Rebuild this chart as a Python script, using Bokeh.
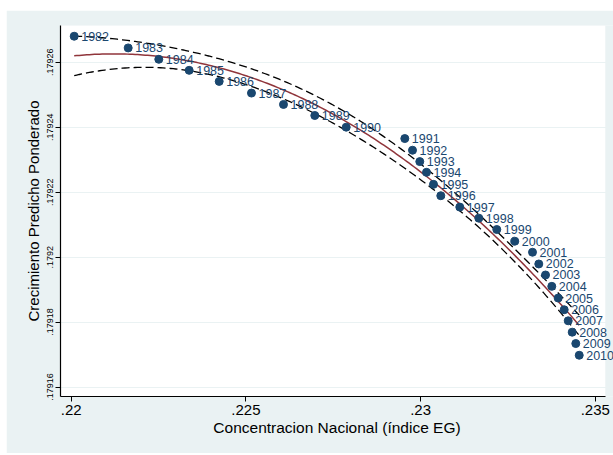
import numpy as np
from bokeh.plotting import figure
from bokeh.models import ColumnDataSource, FixedTicker, Range1d
from bokeh.core.properties import value
from bokeh.embed import file_html
from bokeh.resources import INLINE

years = [1982, 1983, 1984, 1985, 1986, 1987, 1988, 1989, 1990, 1991,
         1992, 1993, 1994, 1995, 1996, 1997, 1998, 1999, 2000, 2001,
         2002, 2003, 2004, 2005, 2006, 2007, 2008, 2009, 2010]
eg_index = [0.220086, 0.221631, 0.222507, 0.223377, 0.224236, 0.225160, 0.226076,
            0.226972, 0.227871, 0.229548, 0.229768, 0.229977, 0.230169, 0.230369,
            0.230578, 0.231122, 0.231666, 0.232181, 0.232696, 0.233203, 0.233383,
            0.233575, 0.233755, 0.233938, 0.234110, 0.234225, 0.234339, 0.234442,
            0.234540]
growth = [0.1792680, 0.1792644, 0.1792609, 0.1792575, 0.1792541, 0.1792505,
          0.1792470, 0.1792436, 0.1792400, 0.1792365, 0.1792329, 0.1792294,
          0.1792261, 0.1792224, 0.1792189, 0.1792154, 0.1792120, 0.1792085,
          0.1792049, 0.1792015, 0.1791979, 0.1791945, 0.1791910, 0.1791874,
          0.1791838, 0.1791804, 0.1791769, 0.1791734, 0.1791698]

x_ticks = [0.22, 0.225, 0.23, 0.235]
x_tick_labels = [".22", ".225", ".23", ".235"]
y_ticks = [0.17916, 0.17918, 0.1792, 0.17922, 0.17924, 0.17926]
y_tick_labels = [".17916", ".17918", ".1792", ".17922", ".17924", ".17926"]

# plot region (white area) extent in data units
x_lo, x_hi = 0.219694, 0.235286
y_lo, y_hi = 0.1791571, 0.1792713

NAVY = "#1A476F"
MAROON = "#90353B"
BG = "#EAF2F3"
FONT = "Liberation Sans"

# quadratic fit with 95% CI of the mean prediction (as Stata qfitci)
x = np.array(eg_index)
y = np.array(growth)
xm = x.mean()
X = np.column_stack([np.ones_like(x), x - xm, (x - xm) ** 2])
beta, *_ = np.linalg.lstsq(X, y, rcond=None)
resid = y - X @ beta
n, k = X.shape
s2 = resid @ resid / (n - k)
V = s2 * np.linalg.inv(X.T @ X)
tcrit = 2.0555  # t(0.975, 26)
xg = np.linspace(x.min(), x.max(), 200)
G = np.column_stack([np.ones_like(xg), xg - xm, (xg - xm) ** 2])
yhat = G @ beta
se = np.sqrt(np.einsum("ij,jk,ik->i", G, V, G))
fit = ColumnDataSource(dict(x=xg, y=yhat, lo=yhat - tcrit * se, hi=yhat + tcrit * se))

src = ColumnDataSource(dict(x=eg_index, y=growth, lab=[str(v) for v in years]))

# frame extends to the right page edge so that point labels are not clipped
px_per_unit = 174.7 / 0.005
frame_w = 553
p = figure(width=607, height=443, output_backend="svg", toolbar_location=None,
           x_range=Range1d(x_lo, x_lo + frame_w / px_per_unit), y_range=Range1d(y_lo, y_hi),
           min_border_left=54, min_border_right=0, min_border_top=15, min_border_bottom=57)
p.margin = (10, 0, 2, 6)
p.background_fill_color = BG
p.border_fill_color = BG
p.outline_line_color = None

p.quad(left=[x_lo], right=[x_hi], bottom=[y_lo], top=[y_hi], fill_color="white",
       line_color=None, level="image")

p.line("x", "hi", source=fit, line_color="black", line_dash="8 4", line_width=1.3)
p.line("x", "lo", source=fit, line_color="black", line_dash="8 4", line_width=1.3)
p.line("x", "y", source=fit, line_color=MAROON, line_width=1.5)
p.scatter("x", "y", source=src, size=8, fill_color=NAVY, line_color=NAVY)
p.text("x", "y", text="lab", source=src, x_offset=7, text_baseline="middle",
       text_align="left", text_color=NAVY, text_font_size="12.5px", text_font=value(FONT))

p.xgrid.grid_line_color = None
p.ygrid.grid_line_color = BG
p.ygrid.grid_line_width = 1.2

p.xaxis.ticker = FixedTicker(ticks=x_ticks)
p.xaxis.major_label_overrides = {t: l for t, l in zip(x_ticks, x_tick_labels)}
p.yaxis.ticker = FixedTicker(ticks=y_ticks)
p.yaxis.major_label_overrides = {t: l for t, l in zip(y_ticks, y_tick_labels)}
p.yaxis.major_label_orientation = "vertical"

p.xaxis.axis_label = "Concentracion Nacional (índice EG)"
p.yaxis.axis_label = "Crecimiento Predicho Ponderado"
p.xaxis.bounds = (x_lo, x_hi)

for ax in (p.xaxis, p.yaxis):
    ax.axis_line_color = "black"
    ax.axis_line_width = 1.2
    ax.major_tick_line_color = "black"
    ax.major_tick_out = 5
    ax.major_tick_in = 0
    ax.minor_tick_line_color = None
    ax.major_label_text_font = FONT
    ax.major_label_text_color = "black"
    ax.axis_label_text_font = FONT
    ax.axis_label_text_font_style = "normal"
    ax.axis_label_text_color = "black"

p.xaxis.axis_label_text_font_size = "15.5px"
p.yaxis.axis_label_text_font_size = "15px"
p.xaxis.major_label_text_font_size = "15px"
p.xaxis.major_label_standoff = 3
p.xaxis.axis_label_standoff = 1
p.yaxis.major_label_text_font_size = "9px"
p.yaxis.major_label_standoff = 2
p.yaxis.axis_label_standoff = 3

open("out.html", "w").write(file_html(p, INLINE))
